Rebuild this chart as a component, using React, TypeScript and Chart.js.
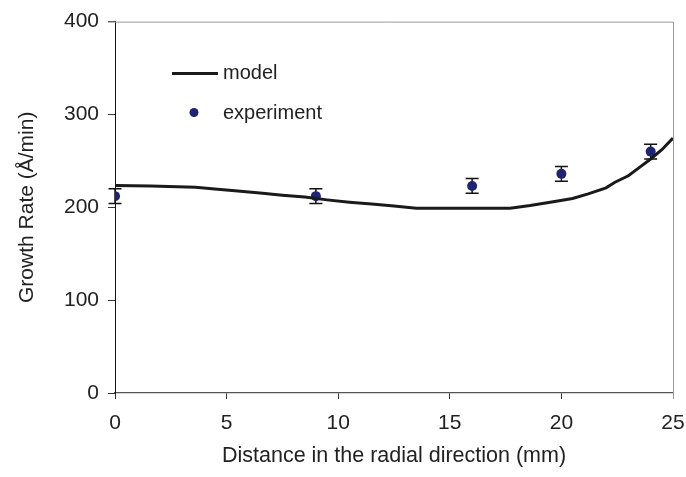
import React, { useEffect, useRef } from "react";
import { Chart, registerables } from "chart.js";

Chart.register(...registerables);

const modelX = [0, 1.6, 3.6, 4.6, 5.5, 6.5, 7.5, 8.5, 9.5, 10.5, 11.5, 12.5, 13.5, 17.7, 18.6, 19.5, 20.5, 21.2, 22, 22.4, 23, 23.5, 24, 24.5, 25];
const modelY = [223.5, 223, 221.5, 219.5, 217.5, 215.5, 213, 211, 208, 205.5, 203.5, 201.5, 199, 199, 202, 205.5, 209.5, 214.5, 221, 227, 234, 243, 252, 262, 274.5];

const expX = [0, 9, 16, 20, 24];
const expY = [212, 212, 223, 236, 260];
const expErr = [8, 8, 8, 8, 8];

const xTicks = [0, 5, 10, 15, 20, 25];
const yTicks = [0, 100, 200, 300, 400];

const FONT = "'Liberation Sans', Arial, Helvetica, sans-serif";
const DOT = "#1f2472";
const LINE = "#1a1a1a";

const errorBarPlugin = {
  id: "errorBars",
  beforeDatasetDraw(chart: any, args: any) {
    if (args.index !== 1) return;
    const { ctx, scales } = chart;
    const xs = scales.x;
    const ys = scales.y;
    ctx.save();
    ctx.strokeStyle = "#111";
    ctx.lineWidth = 1.5;
    expX.forEach((xv, i) => {
      const px = xs.getPixelForValue(xv);
      const top = ys.getPixelForValue(expY[i] + expErr[i]);
      const bot = ys.getPixelForValue(expY[i] - expErr[i]);
      ctx.beginPath();
      ctx.moveTo(px, top);
      ctx.lineTo(px, bot);
      ctx.moveTo(px - 6.5, top);
      ctx.lineTo(px + 6.5, top);
      ctx.moveTo(px - 6.5, bot);
      ctx.lineTo(px + 6.5, bot);
      ctx.stroke();
    });
    ctx.restore();
  },
};

const frameLegendPlugin = {
  id: "frameLegend",
  afterDatasetsDraw(chart: any) {
    const { ctx, chartArea } = chart;
    ctx.save();
    // top and right frame
    ctx.strokeStyle = "#9a9a9a";
    ctx.lineWidth = 1;
    ctx.beginPath();
    ctx.moveTo(chartArea.left - 7, chartArea.top + 0.5);
    ctx.lineTo(chartArea.right + 0.5, chartArea.top + 0.5);
    ctx.lineTo(chartArea.right + 0.5, chartArea.bottom + 6);
    ctx.stroke();
    // legend
    ctx.strokeStyle = LINE;
    ctx.lineWidth = 3;
    ctx.beginPath();
    ctx.moveTo(172, 73.5);
    ctx.lineTo(218, 73.5);
    ctx.stroke();
    ctx.fillStyle = DOT;
    ctx.beginPath();
    ctx.arc(194, 112.5, 4.5, 0, Math.PI * 2);
    ctx.fill();
    ctx.fillStyle = "#222";
    ctx.font = `20px ${FONT}`;
    ctx.textBaseline = "alphabetic";
    ctx.textAlign = "left";
    ctx.fillText("model", 223, 78.5);
    ctx.fillText("experiment", 223, 118.5);
    ctx.restore();
  },
};

export default function App() {
  const ref = useRef<HTMLCanvasElement | null>(null);
  useEffect(() => {
    if (!ref.current) return;
    const chart = new Chart(ref.current, {
      type: "scatter",
      data: {
        datasets: [
          {
            label: "model",
            data: modelX.map((x, i) => ({ x, y: modelY[i] })),
            showLine: true,
            borderColor: LINE,
            borderWidth: 3,
            pointRadius: 0,
            tension: 0,
          },
          {
            label: "experiment",
            data: expX.map((x, i) => ({ x, y: expY[i] })),
            showLine: false,
            pointRadius: 5,
            pointBackgroundColor: DOT,
            pointBorderColor: DOT,
            pointBorderWidth: 0,
          },
        ],
      },
      options: {
        animation: false,
        responsive: false,
        devicePixelRatio: 1,
        layout: { padding: { left: 0, top: 21, right: 13, bottom: 0 } },
        plugins: { legend: { display: false }, tooltip: { enabled: false } },
        scales: {
          x: {
            type: "linear",
            min: 0,
            max: 25,
            afterBuildTicks: (s: any) => {
              s.ticks = xTicks.map((v) => ({ value: v }));
            },
            afterFit: (s: any) => {
              s.height = 84;
              s.paddingRight = 0;
              s.paddingLeft = 0;
            },
            grid: { drawOnChartArea: false, drawTicks: true, tickLength: 6, color: "#333" },
            border: { display: true, color: "#555", width: 1.3 },
            ticks: { color: "#222", font: { family: FONT, size: 21 }, padding: 12, maxRotation: 0 },
            title: {
              display: true,
              text: "Distance in the radial direction (mm)",
              color: "#222",
              font: { family: FONT, size: 21.5 },
              padding: { top: 0, bottom: 8 },
            },
          },
          y: {
            type: "linear",
            min: 0,
            max: 400,
            afterBuildTicks: (s: any) => {
              s.ticks = yTicks.map((v) => ({ value: v }));
            },
            afterFit: (s: any) => {
              s.width = 115;
            },
            grid: { drawOnChartArea: false, drawTicks: true, tickLength: 7, color: "#333" },
            border: { display: true, color: "#111", width: 1 },
            ticks: { color: "#222", font: { family: FONT, size: 21 }, padding: 9 },
            title: {
              display: true,
              text: "Growth Rate (Å/min)",
              color: "#222",
              font: { family: FONT, size: 21 },
              padding: { top: 15, bottom: 0 },
            },
          },
        },
      },
      plugins: [errorBarPlugin, frameLegendPlugin],
    });
    return () => chart.destroy();
  }, []);
  return (
    <div style={{ position: "absolute", left: 0, top: 0, width: 686, height: 477, background: "#fff" }}>
      <canvas ref={ref} width={686} height={477} />
    </div>
  );
}
